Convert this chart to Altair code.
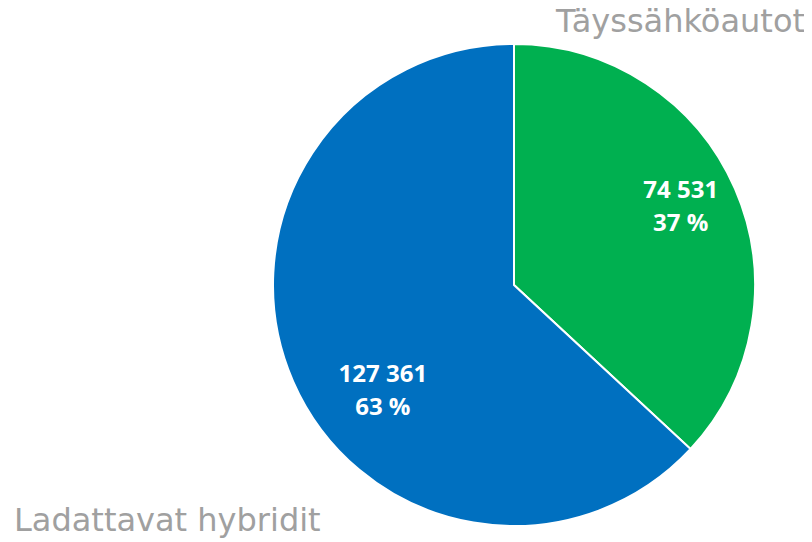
import altair as alt
import pandas as pd

categories = ["Täyssähköautot", "Ladattavat hybridit"]
values = [74531, 127361]
colors = ["#00B050", "#0070C0"]

df = pd.DataFrame({"category": categories, "value": values})

CX, CY, R = 506, 277, 241

base = (
    alt.Chart(df)
    .transform_window(idx="row_number()")
    .transform_joinaggregate(total="sum(value)")
    .transform_window(cum="sum(value)", sort=[alt.SortField("idx")], frame=[None, 0])
    .transform_calculate(
        mid="(datum.cum - datum.value/2) / datum.total * 2 * PI",
        label="replace(format(datum.value, ','), regexp(',', 'g'), ' ') + '\\n' + format(round(datum.value / datum.total * 100), 'd') + ' %'",
    )
)

pie = base.mark_arc(stroke="white", strokeWidth=2, radius=R).encode(
    theta=alt.Theta("value:Q", stack=True),
    order=alt.Order("idx:Q"),
    color=alt.Color("category:N", scale=alt.Scale(domain=categories, range=colors), legend=None),
    x=alt.value(CX),
    y=alt.value(CY),
)

val_style = dict(font="Open Sans", fontWeight="bold", fontSize=24, color="white",
                 lineBreak="\n", lineHeight=33, align="center", baseline="middle")

lab_green = base.transform_filter(alt.datum.category == categories[0]).mark_text(
    radius=184, dx=-2, dy=-20, **val_style
).encode(
    theta=alt.Theta("mid:Q", scale=None, stack=False),
    text="label:N",
    x=alt.value(CX),
    y=alt.value(CY),
)

lab_blue = base.transform_filter(alt.datum.category == categories[1]).mark_text(
    radius=166, dx=21, dy=24, **val_style
).encode(
    theta=alt.Theta("mid:Q", scale=None, stack=False),
    text="label:N",
    x=alt.value(CX),
    y=alt.value(CY),
)

cat_style = dict(font="DejaVu Sans", fontSize=32, color="#A0A0A0", baseline="alphabetic")

cat_green = base.transform_filter(alt.datum.category == categories[0]).mark_text(
    align="right", **cat_style
).encode(text="category:N", x=alt.value(797), y=alt.value(24))

cat_blue = base.transform_filter(alt.datum.category == categories[1]).mark_text(
    align="left", **cat_style
).encode(text="category:N", x=alt.value(6), y=alt.value(523))

chart = (
    alt.layer(pie, lab_green, lab_blue, cat_green, cat_blue)
    .properties(width=796, height=530, autosize=alt.AutoSizeParams(type="none"), padding=0, background="white")
    .configure_view(stroke=None)
)

chart.save("out.html", embed_options={"renderer": "svg", "actions": False})
